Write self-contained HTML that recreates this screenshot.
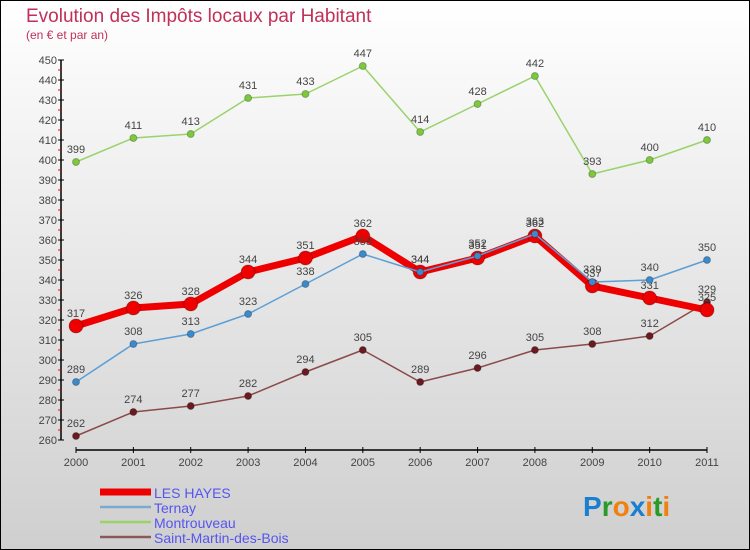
<!DOCTYPE html>
<html><head><meta charset="utf-8"><style>
body{margin:0;width:750px;height:550px;overflow:hidden;font-family:"Liberation Sans","DejaVu Sans",sans-serif}
#wrap{position:absolute;left:0;top:0;width:748px;height:548px;border:1px solid #000;background:linear-gradient(#ffffff,#cfcfcf)}
</style></head><body>
<div id="wrap">
<svg id="chart" width="750" height="550" style="position:absolute;left:-1px;top:-1px">
<text x="26" y="22" font-size="19" fill="#c0305a">Evolution des Impôts locaux par Habitant</text>
<text x="26" y="39" font-size="12" fill="#c0305a">(en € et par an)</text>
<g id="axes"></g><g id="series"></g><g id="legend"></g>
<text x="583" y="516" font-size="28" font-weight="bold"><tspan fill="#1a7fd0">P</tspan><tspan fill="#2a9a2a">r</tspan><tspan fill="#f08010">o</tspan><tspan fill="#1a7fd0">x</tspan><tspan fill="#f08010">i</tspan><tspan fill="#2a9a2a">t</tspan><tspan fill="#f08010">i</tspan></text>
</svg></div>
<script>
const years=["2000","2001","2002","2003","2004","2005","2006","2007","2008","2009","2010","2011"];
const yTicks=[260,270,280,290,300,310,320,330,340,350,360,370,380,390,400,410,420,430,440,450];
const lesHayes=[317,326,328,344,351,362,344,351,362,337,331,325];
const ternay=[289,308,313,323,338,353,344,352,363,339,340,350];
const montrouveau=[399,411,413,431,433,447,414,428,442,393,400,410];
const saintMartin=[262,274,277,282,294,305,289,296,305,308,312,329];
const NS="http://www.w3.org/2000/svg";
function xs(i){return 76+i*(707-76)/11;}
function ys(v){return 440-(v-260)*2;}
function mk(t,a,p){const e=document.createElementNS(NS,t);for(const k in a)e.setAttribute(k,a[k]);p.appendChild(e);return e;}
const ax=document.getElementById('axes');
let e=mk('line',{x1:61,y1:60,x2:61,y2:440,stroke:'#000','stroke-width':1.5},ax);

e=mk('line',{x1:76,y1:450,x2:707,y2:450,stroke:'#000','stroke-width':1.5},ax);

yTicks.forEach((v,i)=>{const y=ys(v);
 mk('line',{x1:58,y1:y,x2:64,y2:y,stroke:'#000'},ax);
 if(i<yTicks.length-1)mk('line',{x1:58,y1:y-10,x2:61,y2:y-10,stroke:'red'},ax);
 const t=mk('text',{x:57,y:y+4,'font-size':11,fill:'#444','text-anchor':'end'},ax);t.textContent=v;
 });
years.forEach((yr,i)=>{const x=xs(i);
 mk('line',{x1:x,y1:447,x2:x,y2:453,stroke:'#000'},ax);
 const t=mk('text',{x:x,y:466,'font-size':11,fill:'#444','text-anchor':'middle'},ax);t.textContent=yr;
 });
const sg=document.getElementById('series');
const defs=[
 {d:montrouveau,c:'#99d36b',w:1.5,r:3.5,f:'#7cc93c',n:'montrouveau'},
 {d:saintMartin,c:'#8a4a4a',w:1.5,r:3.5,f:'#6b1a20',n:'saint-martin-des-bois'},
 {d:lesHayes,c:'#ee0000',w:7,r:7,f:'#ee0000',n:'les-hayes'},
 {d:ternay,c:'#5b9fd6',w:1.5,r:3.5,f:'#3a8acc',n:'ternay'}];
defs.forEach(s=>{const g=mk('g',{},sg);
 
 const p=mk('polyline',{points:s.d.map((v,i)=>xs(i)+','+ys(v)).join(' '),fill:'none',stroke:s.c,'stroke-width':s.w,'stroke-linejoin':'round'},g);
 
 s.d.forEach((v,i)=>{const c=mk('circle',{cx:xs(i),cy:ys(v),r:s.r,fill:s.f,stroke:'rgba(0,0,0,0.25)'},g);
  
  const t=mk('text',{x:xs(i),y:ys(v)-9,'font-size':11,fill:'#444','text-anchor':'middle'},g);t.textContent=v;
  });});
const lg=document.getElementById('legend');
[['LES HAYES','#ee0000',7],['Ternay','#7aaad0',2.5],['Montrouveau','#99d36b',2.5],['Saint-Martin-des-Bois','#8a5a5a',2.5]].forEach((l,i)=>{
 const y=492+i*15;
 const ln=mk('line',{x1:100,y1:y,x2:151,y2:y,stroke:l[1],'stroke-width':l[2]},lg);
 
 const t=mk('text',{x:154,y:y+6,'font-size':14,fill:'#5555ee'},lg);t.textContent=l[0];
 });
</script>
</body></html>
